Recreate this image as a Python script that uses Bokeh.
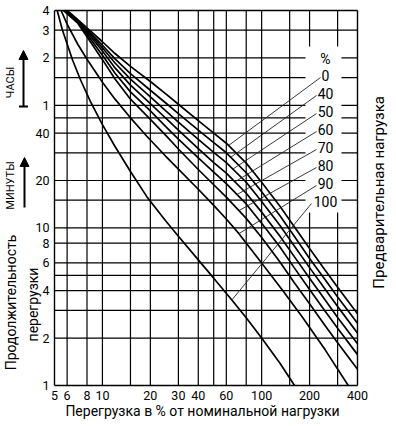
import math
import numpy as np
from bokeh.plotting import figure
from bokeh.models import Arrow, NormalHead, TeeHead, ColumnDataSource
from bokeh.embed import file_html
from bokeh.resources import INLINE
from bokeh.core.properties import value

FONT = "Roboto"

# ---------------- data ----------------
x_ticks = [5, 6, 8, 10, 20, 30, 40, 60, 100, 200, 400]
x_tick_labels = ["5", "6", "8", "10", "20", "30", "40", "60", "100", "200", "400"]
y_ticks = [1, 2, 4, 6, 8, 10, 20, 40, 60, 120, 180, 240]
y_tick_labels = ["1", "2", "4", "6", "8", "10", "20", "40", "1", "2", "3", "4"]
x_grid = [6, 8, 10, 15, 20, 30, 40, 50, 60, 80, 100, 150, 200, 300]
y_grid = [2, 3, 4, 5, 6, 8, 10, 15, 20, 30, 40, 50, 60, 90, 120, 180]

preload = ["0", "40", "50", "60", "70", "80", "90", "100"]

xs = [7, 8, 10, 12, 15, 20, 25, 30, 40, 50, 60, 80, 100, 130, 160, 200, 250, 300, 400]

c0_x = [6.0] + xs
c0_t = [240, 210, 186, 152, 128, 106, 85, 71, 61, 48, 40, 34.5, 25.8, 19.5, 13.8, 10.2, 7.4, 5.4, 4.2, 2.85]

c40_x = [5.95] + xs
c40_t = [240, 207.9, 182.3, 144.4, 118.4, 95.4, 74.8, 62.1, 53.1, 41.8, 34.8, 30.0, 22.4, 17.0, 12.0, 8.9, 6.4, 4.7, 3.65, 2.48]

c50_x = [5.9] + xs
c50_t = [240, 205.8, 178.6, 139.1, 111.4, 88.0, 68.0, 55.4, 47.0, 36.5, 30.2, 26.0, 19.5, 14.7, 10.4, 7.7, 5.6, 4.1, 3.17, 2.15]

c60_x = [5.85] + xs
c60_t = [240, 203.7, 174.8, 133.0, 103.7, 80.6, 61.6, 49.7, 41.8, 31.9, 26.0, 22.3, 16.6, 12.6, 8.9, 6.6, 4.8, 3.5, 2.7, 1.84]

c70_x = [5.8] + xs
c70_t = [240, 201.6, 169.3, 124.6, 96.0, 73.1, 55.3, 44.0, 36.6, 27.8, 22.6, 19.1, 14.2, 10.7, 7.6, 5.6, 4.07, 2.97, 2.31, 1.57]

c80_x = [5.7] + xs
c80_t = [240, 199.5, 163.7, 117.0, 88.3, 65.7, 48.9, 38.7, 31.7, 23.5, 18.8, 15.7, 11.5, 8.7, 6.1, 4.5, 3.3, 2.4, 1.87, 1.27]

c90_x = [5.5, 6, 7, 8, 10, 12, 15, 19, 25, 30, 40, 50, 60, 72, 100, 136, 180, 250, 350]
c90_t = [240, 196.5, 146.6, 117.6, 84.1, 65.7, 50.0, 38.2, 28.5, 23.6, 17.6, 13.9, 11.4, 9.2, 6.0, 4.0, 2.72, 1.69, 1.0]

c100_x = [5.2, 5.6, 6.5, 7.3, 8.4, 10, 12, 15, 19, 25, 30, 40, 50, 65, 80, 100, 130, 161]
c100_t = [240, 181, 116, 86.6, 63.6, 45.3, 32.9, 22.8, 15.8, 11.06, 8.85, 6.27, 4.8, 3.49, 2.69, 2.0, 1.39, 1.0]

curves_x = [c0_x, c40_x, c50_x, c60_x, c70_x, c80_x, c90_x, c100_x]
curves_t = [c0_t, c40_t, c50_t, c60_t, c70_t, c80_t, c90_t, c100_t]

# x value where each label's leader line meets its curve
leader_hit_x = [62, 64, 66, 68, 70, 72, 72, 65]

# ---------------- geometry (pixels) ----------------
W, H = 396, 426
FL, FR, FT, FB = 54, 357, 10, 385          # chart area edges
X0, X1, Y0, Y1 = 5, 400, 1, 240
KX = (FR - FL) / math.log10(X1 / X0)
KY = (FB - FT) / math.log10(Y1 / Y0)


def px_x(px):
    return X0 * 10 ** ((px - FL) / KX)


def px_y(py):
    return Y0 * 10 ** ((FB - py) / KY)


p = figure(width=W, height=H, x_axis_type="log", y_axis_type="log",
           x_range=(px_x(0), px_x(W)), y_range=(px_y(H), px_y(0)),
           title=None, output_backend="svg", toolbar_location=None, min_border=0)
p.axis.visible = False
p.grid.visible = False
p.outline_line_color = None
p.background_fill_color = "white"
p.border_fill_color = "white"

LINE = dict(line_color="black", line_width=1.2)
# grid
p.segment(x0=x_grid, x1=x_grid, y0=[Y0] * len(x_grid), y1=[Y1] * len(x_grid), **LINE)
p.segment(x0=[X0] * len(y_grid), x1=[X1] * len(y_grid), y0=y_grid, y1=y_grid, **LINE)

# white mask behind the preload labels
p.quad(left=[px_x(305)], right=[px_x(341)], bottom=[px_y(212)], top=[px_y(46)],
       fill_color="white", line_color=None)

# frame
p.segment(x0=[X0, X1, X0, X0], x1=[X0, X1, X1, X1], y0=[Y0, Y0, Y0, Y1], y1=[Y1, Y1, Y0, Y1],
          line_color="black", line_width=1.4)

# curves
for cx, ct in zip(curves_x, curves_t):
    p.line(cx, ct, line_color="black", line_width=1.7)

# preload labels and their leader lines
lab_py = [75, 93, 111, 129, 147, 165, 183, 201]
lead_px = [320, 316, 316, 316, 316, 316, 316, 311]
for i, (cx, ct) in enumerate(zip(curves_x, curves_t)):
    hx = leader_hit_x[i]
    hy = float(np.exp(np.interp(np.log(hx), np.log(cx), np.log(ct))))
    p.line([px_x(lead_px[i]), hx], [px_y(lab_py[i] + 2), hy], line_color="#222", line_width=0.9)

src = ColumnDataSource(dict(x=[px_x(325)] * (len(preload) + 1),
                            y=[px_y(58)] + [px_y(v) for v in lab_py],
                            t=["%"] + preload))
p.text(x="x", y="y", text="t", source=src, text_align="center", text_baseline="middle",
       text_font=value(FONT), text_font_size="14px", text_color="black")

# tick labels
p.text(x=x_ticks, y=[px_y(395)] * len(x_ticks), text=x_tick_labels, text_align="center",
       text_baseline="middle", text_font=value(FONT), text_font_size="12.5px", text_color="black")
p.text(x=[px_x(49)] * len(y_ticks), y=y_ticks, text=y_tick_labels, text_align="right",
       text_baseline="middle", text_font=value(FONT), text_font_size="12.5px", text_color="black")


def txt(s, px, py, size, angle=0.0):
    p.text(x=[px_x(px)], y=[px_y(py)], text=[s], angle=angle, text_align="center",
           text_baseline="middle", text_font=value(FONT), text_font_size=size, text_color="black")


txt("ЧАСЫ", 10, 82, "11px", math.pi / 2)
txt("МИНУТЫ", 10, 185, "11px", math.pi / 2)
txt("Продолжительность", 10, 302, "14px", math.pi / 2)
txt("перегрузки", 32, 304, "14px", math.pi / 2)
txt("Предварительная  нагрузка", 378, 190, "15px", math.pi / 2)
txt("Перегрузка в % от номинальной нагрузки", 202, 410, "14px")

# arrows beside the unit names
p.add_layout(Arrow(x_start=px_x(23), y_start=px_y(106), x_end=px_x(23), y_end=px_y(50),
                   start=TeeHead(size=9, line_width=2, line_color="black"),
                   end=NormalHead(size=9, fill_color="black", line_color="black"),
                   line_width=2, line_color="black"))
p.add_layout(Arrow(x_start=px_x(24), y_start=px_y(207), x_end=px_x(24), y_end=px_y(157),
                   end=NormalHead(size=9, fill_color="black", line_color="black"),
                   line_width=2, line_color="black"))

open("out.html", "w").write(file_html(p, INLINE))
